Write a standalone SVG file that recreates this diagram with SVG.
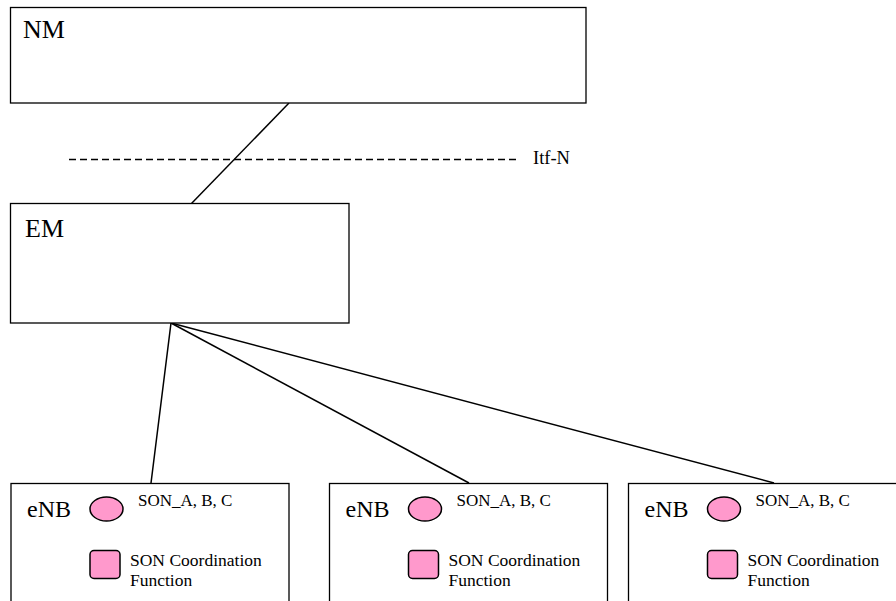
<svg xmlns="http://www.w3.org/2000/svg" width="896" height="601" viewBox="0 0 896 601">
  <defs>
    <style>
      .box { fill: #ffffff; stroke: #000000; stroke-width: 1.3; }
      .link { stroke: #000000; stroke-width: 1.5; fill: none; }
      .itf { stroke: #000000; stroke-width: 1.5; stroke-dasharray: 7 4; fill: none; }
      .son { fill: #ff99cc; stroke: #000000; stroke-width: 1.5; }
      .t { font-family: "Liberation Serif", "Times New Roman", serif; fill: #000000; }
      .head { font-size: 26px; }
      .big { font-size: 24px; }
      .small { font-size: 17px; }
      .note { font-size: 17.5px; }
    </style>
    <!-- one base station: frame, label, SON functions and coordination function -->
    <g id="enbTemplate">
      <rect class="box" x="0" y="0" width="278" height="130"/>
      <text class="t big" x="16" y="33">eNB</text>
      <ellipse class="son" cx="95.5" cy="25.5" rx="16.5" ry="12"/>
      <text class="t small" x="127" y="22">SON_A, B, C</text>
      <rect class="son" x="79" y="67" width="30" height="28" rx="4" ry="4"/>
      <text class="t note" x="119" y="82">SON Coordination</text>
      <text class="t note" x="119" y="102">Function</text>
    </g>
  </defs>

  <rect x="0" y="0" width="896" height="601" fill="#ffffff"/>

  <!-- connectors -->
  <g id="connectors">
    <line class="link" x1="289" y1="103" x2="191" y2="204"/>
    <line class="itf" x1="69" y1="159.5" x2="517" y2="159.5"/>
    <line class="link" x1="171" y1="323" x2="151" y2="483"/>
    <line class="link" x1="171" y1="323" x2="469" y2="483"/>
    <line class="link" x1="171" y1="323" x2="774" y2="483"/>
  </g>

  <g id="itfN">
    <text class="t" font-size="18.5" x="533" y="164">Itf-N</text>
  </g>

  <g id="nm">
    <rect class="box" x="10.5" y="7.5" width="575.5" height="95.5"/>
    <text class="t head" x="23" y="38">NM</text>
  </g>

  <g id="em">
    <rect class="box" x="10.5" y="203.5" width="338.5" height="119.5"/>
    <text class="t head" x="25" y="237">EM</text>
  </g>

  <g id="enb1">
    <use href="#enbTemplate" x="11" y="483.5"/>
  </g>
  <g id="enb2">
    <use href="#enbTemplate" x="329.5" y="483.5"/>
  </g>
  <g id="enb3">
    <use href="#enbTemplate" x="628.5" y="483.5"/>
  </g>
</svg>
